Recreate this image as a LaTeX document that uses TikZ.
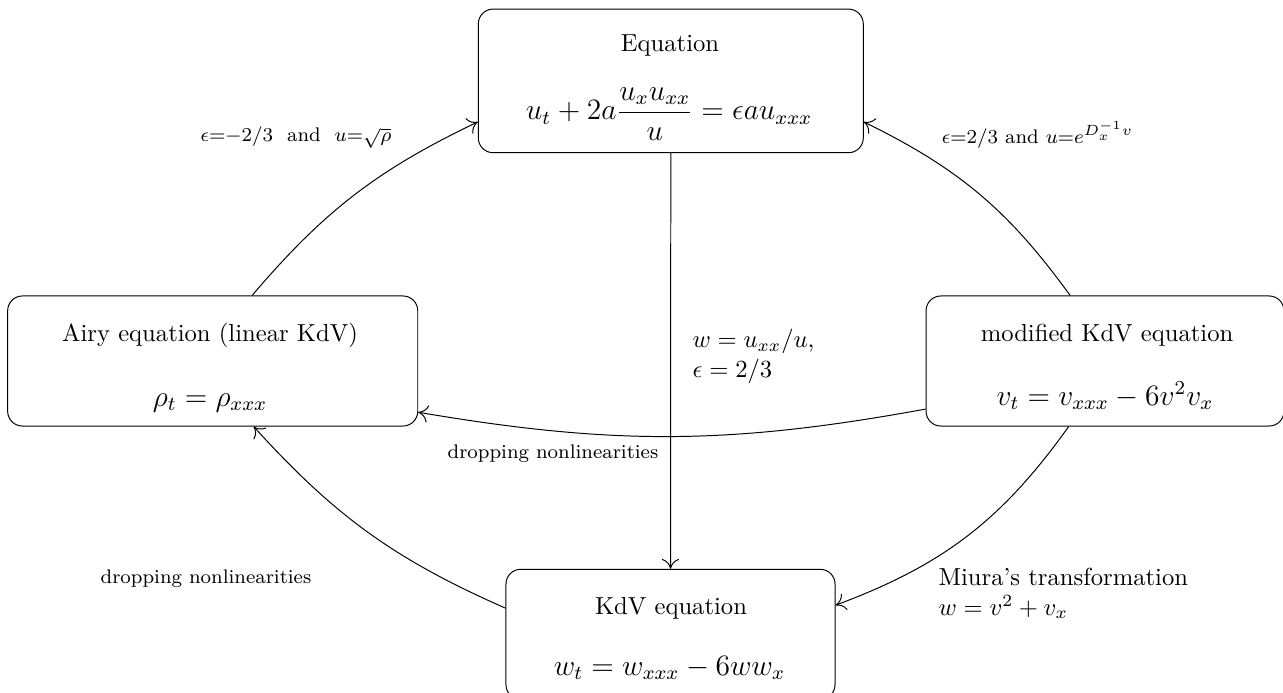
\documentclass[tikz,border=0pt]{standalone}
\usepackage{amsmath}
\usetikzlibrary{arrows.meta}
\begin{document}
\begin{tikzpicture}[x=0.406pt,y=0.406pt,
  box/.style={draw,rounded corners=6pt,inner sep=0pt},
  ttl/.style={anchor=base,inner sep=0pt},
  eqn/.style={anchor=base,inner sep=0pt,font=\large},
  lbl/.style={anchor=base,inner sep=0pt,font=\footnotesize},
  lblleft/.style={anchor=base west,inner sep=0pt,align=left},
  arr/.style={-{To[length=4pt,width=7pt]}}]
\useasboundingbox (0,0) rectangle (1283,-693);
% boxes
\node[box,minimum width=156.3pt,minimum height=58.3pt] (eq) at (670.8,-80.9) {};
\node[box,minimum width=166.5pt,minimum height=52.8pt] (airy) at (212.7,-361) {};
\node[box,minimum width=145.3pt,minimum height=52.8pt] (mkdv) at (1105,-361) {};
\node[box,minimum width=133.6pt,minimum height=52.8pt] (kdv) at (670.5,-634.3) {};
% box texts
\node[ttl] (eqT) at (670,-52) {Equation};
\node[eqn] (eqE) at (669,-120) {$\displaystyle u_t+2a\frac{u_xu_{xx}}{u}=\epsilon a u_{xxx}$};
\node[ttl] (airyT) at (210,-341.7) {Airy equation (linear KdV)};
\node[eqn] (airyE) at (210,-406) {$\rho_t=\rho_{xxx}$};
\node[ttl] (mkdvT) at (1107,-341.7) {modified KdV equation};
\node[eqn] (mkdvE) at (1105,-405) {$v_t=v_{xxx}-6v^2v_x$};
\node[ttl] (kdvT) at (671,-614) {KdV equation};
\node[eqn] (kdvE) at (669.5,-675) {$w_t=w_{xxx}-6ww_x$};
% connectors
\draw[arr] (airy.59) to[bend left=12] (eq.192);
\draw[arr] (mkdv.118) to[bend right=14] (eq.348);
\draw[arr] (eq.south) -- (kdv.north);
\draw[arr] (mkdv.195) to[bend left=10] (airy.346);
\draw[arr] (kdv.171) to[bend left=12] (airy.302);
\draw[arr] (mkdv.241) to[bend left=17] (kdv.10);
% labels
\node[lbl] (l1) at (296,-142) {$\epsilon{=}{-}2/3$\ \ and\ \ $u{=}\sqrt{\rho}$};
\node[lbl] (l2) at (1037.5,-143) {$\epsilon{=}2/3$ and $u{=}e^{D_x^{-1}v}$};
\node[lblleft] (l3) at (692,-377) {$w=u_{xx}/u$,\\$\epsilon=2/3$};
\node[lbl] (l4) at (553,-458) {dropping nonlinearities};
\node[lbl] (l5) at (206,-583) {dropping nonlinearities};
\node[lblleft] (l6) at (938,-615) {Miura's transformation\\$w=v^2+v_x$};
\end{tikzpicture}
\end{document}
